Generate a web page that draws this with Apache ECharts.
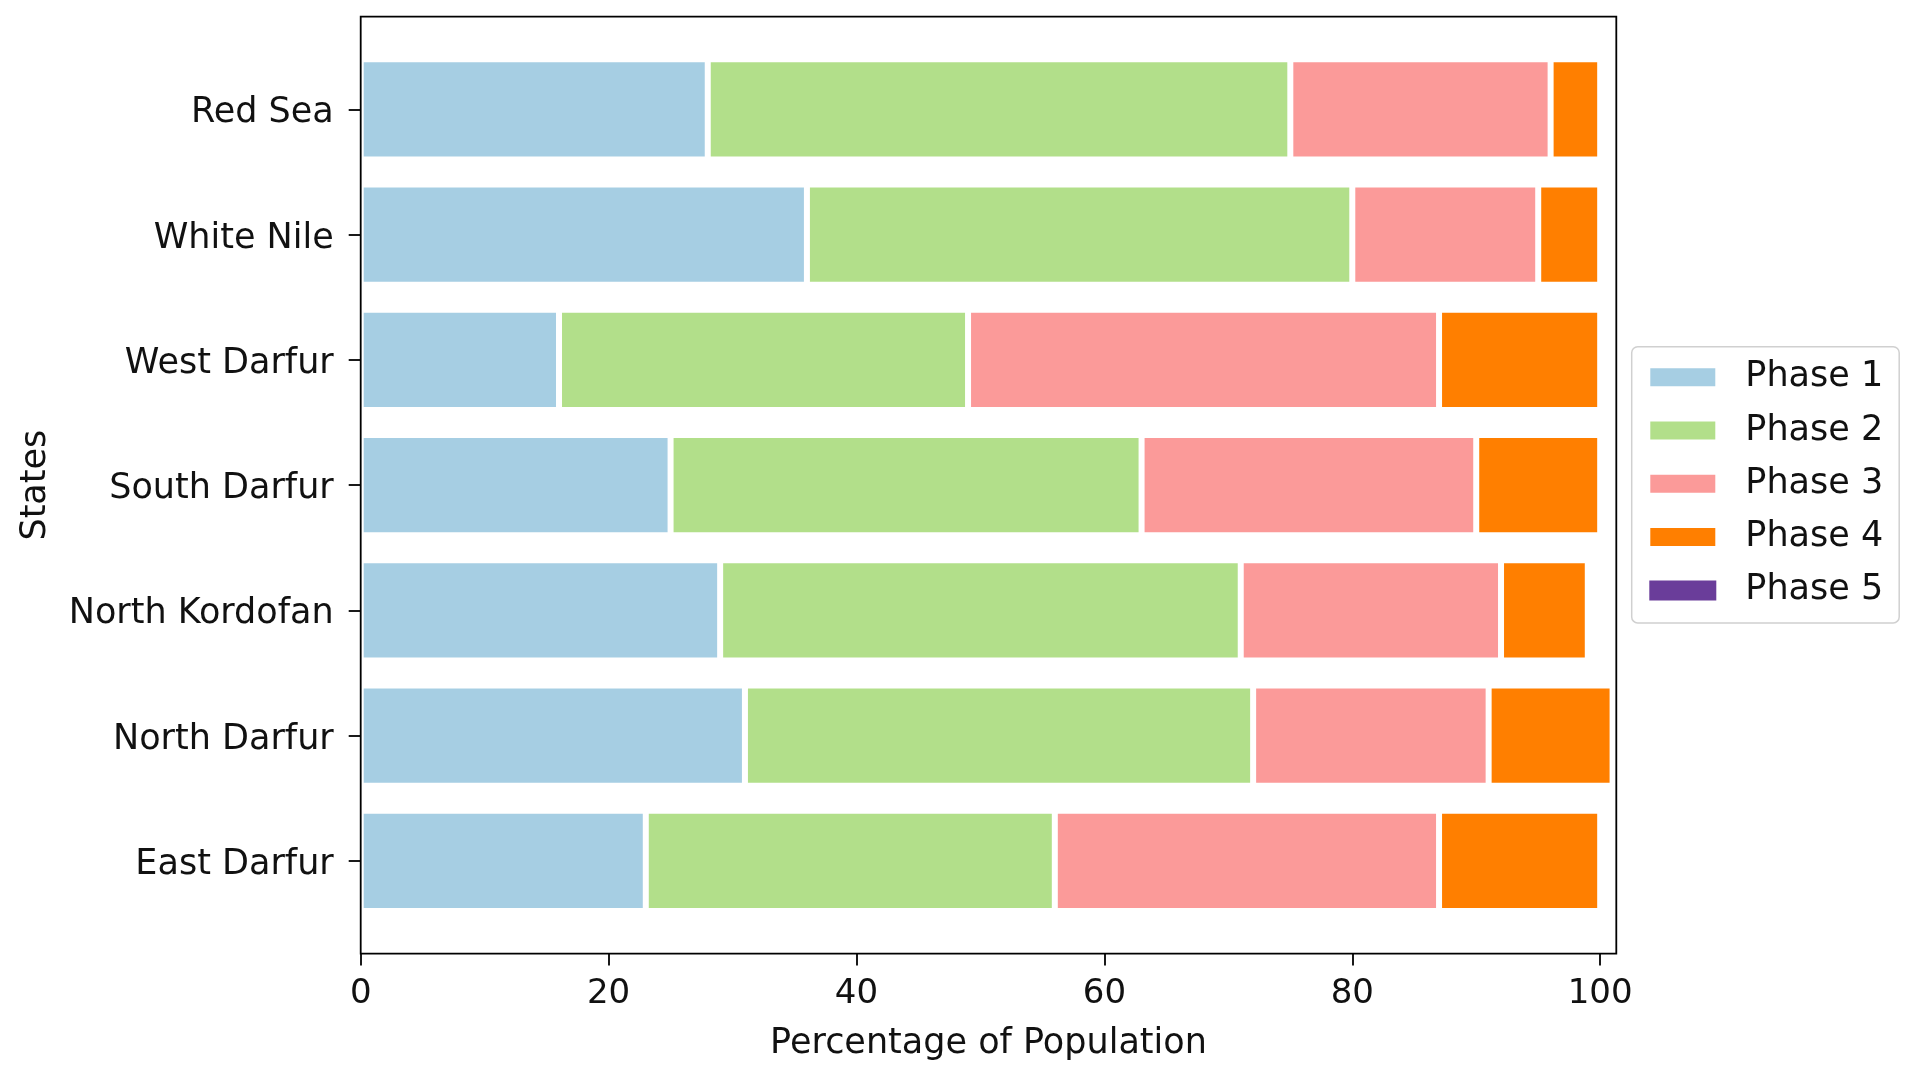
<!DOCTYPE html>
<html>
<head>
<meta charset="utf-8">
<script src="https://cdn.jsdelivr.net/npm/echarts@6/dist/echarts.min.js"></script>
<style>
html,body{margin:0;padding:0;background:#fff;}
#chart{width:1917px;height:1084px;}
</style>
</head>
<body>
<div id="chart"></div>
<script>
// Categories (bottom to top, as plotted)
const states = ["East Darfur", "North Darfur", "North Kordofan", "South Darfur", "West Darfur", "White Nile", "Red Sea"];
// Series values (percentage of population)
const phase1 = [23, 31, 29, 25, 16, 36, 28];
const phase2 = [33, 41, 42, 38, 33, 44, 47];
const phase3 = [31, 19, 21, 27, 38, 15, 21];
const phase4 = [13, 10, 7, 10, 13, 5, 4];
const phase5 = [0, 0, 0, 0, 0, 0, 0];
const phaseNames = ["Phase 1", "Phase 2", "Phase 3", "Phase 4", "Phase 5"];
const xTicks = [0, 20, 40, 60, 80, 100];

const colors = ["#a6cee3", "#b2df8a", "#fb9a99", "#ff7f00", "#6a3d9a"];
const FONT = "DejaVu Sans";

// Layout (pixels)
const plotLeft = 360.7, plotRight = 1616.3, plotTop = 16.7, plotBottom = 953.6;
const unit = (plotBottom - plotTop) / 7.48;   // matplotlib-like y range -0.74..6.74
const gridTop = plotTop + 0.24 * unit;
const gridBottom = plotBottom - 0.24 * unit;
const xOffset = plotBottom - gridBottom;

const chart = echarts.init(document.getElementById('chart'));
const allData = [phase1, phase2, phase3, phase4, phase5];

const option = {
  animation: false,
  color: colors,
  textStyle: { fontFamily: FONT },
  grid: {
    left: plotLeft,
    right: 1917 - plotRight,
    top: gridTop,
    bottom: 1084 - gridBottom,
    containLabel: false
  },
  legend: {
    orient: 'vertical',
    left: 1631.7,
    top: 346.7,
    padding: [13, 16, 15, 16.6],
    itemWidth: 67,
    itemHeight: 20,
    itemGap: 18.3,
    icon: 'rect',
    backgroundColor: '#fff',
    borderColor: '#d0d0d0',
    borderWidth: 1.5,
    borderRadius: 6,
    data: phaseNames,
    textStyle: { fontFamily: FONT, fontSize: 35, lineHeight: 35, color: '#111', padding: [0, 0, 0, 24] }
  },
  xAxis: {
    type: 'value',
    min: 0,
    max: 101.3,
    offset: xOffset,
    name: 'Percentage of Population',
    nameLocation: 'middle',
    nameGap: 73,
    nameTextStyle: { fontFamily: FONT, fontSize: 35, color: '#111' },
    axisLine: { show: false },
    axisTick: { show: true, length: 12, customValues: xTicks, lineStyle: { color: '#000', width: 1.8 } },
    axisLabel: { show: true, customValues: xTicks, fontFamily: FONT, fontSize: 34, color: '#111', margin: 24 },
    splitLine: { show: false }
  },
  yAxis: {
    type: 'category',
    data: states,
    name: 'States',
    nameLocation: 'middle',
    nameGap: 307,
    nameTextStyle: { fontFamily: FONT, fontSize: 35, color: '#111' },
    axisLine: { show: false },
    axisTick: { show: true, alignWithLabel: true, length: 12, lineStyle: { color: '#000', width: 1.8 } },
    axisLabel: { fontFamily: FONT, fontSize: 35, color: '#111', margin: 27, verticalAlign: 'top', lineHeight: 8 },
    splitLine: { show: false }
  },
  graphic: [{
    type: 'rect',
    z: 100,
    silent: true,
    shape: { x: plotLeft, y: plotTop, width: plotRight - plotLeft, height: plotBottom - plotTop },
    style: { fill: null, stroke: '#000', lineWidth: 1.8 }
  }],
  series: phaseNames.map((n, i) => ({
    name: n,
    type: 'bar',
    stack: 'total',
    barWidth: '80%',
    data: allData[i],
    itemStyle: { color: colors[i], borderColor: '#fff', borderWidth: i === 4 ? 0 : 3 }
  }))
};
chart.setOption(option);
</script>
</body>
</html>
